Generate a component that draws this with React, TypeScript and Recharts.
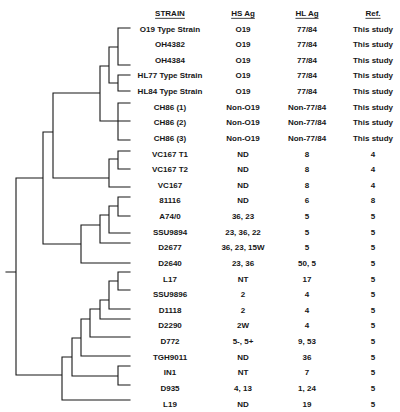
import React from "react";
import { ComposedChart, XAxis, YAxis, Line, Scatter } from "recharts";

// ---- table data ----
const strains = [
  "O19 Type Strain", "OH4382", "OH4384", "HL77 Type Strain", "HL84 Type Strain",
  "CH86 (1)", "CH86 (2)", "CH86 (3)", "VC167 T1", "VC167 T2", "VC167",
  "81116", "A74/0", "SSU9894", "D2677", "D2640", "L17", "SSU9896", "D1118",
  "D2290", "D772", "TGH9011", "IN1", "D935", "L19",
];
const hsAg = [
  "O19", "O19", "O19", "O19", "O19", "Non-O19", "Non-O19", "Non-O19",
  "ND", "ND", "ND", "ND", "36, 23", "23, 36, 22", "36, 23, 15W", "23, 36",
  "NT", "2", "2", "2W", "5-, 5+", "ND", "NT", "4, 13", "ND",
];
const hlAg = [
  "77/84", "77/84", "77/84", "77/84", "77/84", "Non-77/84", "Non-77/84", "Non-77/84",
  "8", "8", "8", "6", "5", "5", "5", "50, 5", "17", "4", "4", "4", "9, 53",
  "36", "7", "1, 24", "19",
];
const refs = [
  "This study", "This study", "This study", "This study", "This study",
  "This study", "This study", "This study", "4", "4", "4", "8", "5", "5", "5",
  "5", "5", "5", "5", "5", "5", "5", "5", "5", "5",
];
const headers = ["STRAIN", "HS Ag", "HL Ag", "Ref."];

// ---- dendrogram data (row units for vertical position, distance for height) ----
// leaf position of each strain as drawn in the tree (null = no own branch)
const treeLeafY = [
  -0.06, null, 2.3, 2.94, 3.97, 4.74, 5.89, 7.1, 7.81, 8.96, 10.11, 10.75,
  11.97, 13.06, 13.7, 14.98, 15.55, 16.7, 17.92, 18.56, 19.71, 20.93, 21.57,
  22.78, 23.74,
];
const clusterNames = ["A", "B", "C", "D", "E", "F", "G", "H", "I", "J", "K", "L", "M", "N", "O", "P", "Q", "R", "S", "T", "U", "V"];
const clusterHeight = [12, 12, 21, 12, 30, 12, 21, 77, 12, 21, 30, 49, 87, 12, 21, 30, 40, 49, 12, 58, 68, 114];
const clusterY = [1.15, 3.46, 2.37, 5.89, 4.1, 8.32, 9.54, 6.59, 11.33, 11.9, 12.54, 13.76, 9.54, 16.13, 17.34, 17.92, 18.56, 19.78, 22.21, 20.99, 22.14, 15.55];
const clusterChildren: (number | string)[][] = [
  [0, 2], [3, 4], ["A", "B"], [5, 6, 7], ["C", "D"], [8, 9], ["F", 10], ["E", "G"],
  [11, 12], ["I", 13], ["J", 14], ["K", 15], ["H", "L"], [16, 17], ["N", 18],
  ["O", 19], ["P", 20], ["Q", 21], [22, 23], ["R", "S"], ["T", 24], ["M", "U"],
];
const rootStubHeight = 124;

// ---- layout constants ----
const W = 400;
const H = 412;
const colX = [170, 243, 307, 373];
const FONT = "'Liberation Sans', Arial, Helvetica, sans-serif";
const INK = "#161616";

function nodePos(c: number | string) {
  if (typeof c === "number") return { h: 0, y: treeLeafY[c] as number };
  const k = clusterNames.indexOf(c);
  return { h: clusterHeight[k], y: clusterY[k] };
}

function buildSegments() {
  const pts: { h: number; y: number | null }[] = [];
  const seg = (h1: number, y1: number, h2: number, y2: number) => {
    pts.push({ h: h1, y: y1 }, { h: h2, y: y2 }, { h: h2, y: null });
  };
  clusterNames.forEach((_, k) => {
    const h = clusterHeight[k];
    const kids = clusterChildren[k].map(nodePos);
    const ys = kids.map((p) => p.y);
    seg(h, Math.min(...ys), h, Math.max(...ys));
    kids.forEach((p) => seg(h, p.y, p.h, p.y));
  });
  const r = clusterNames.length - 1;
  seg(rootStubHeight, clusterY[r], clusterHeight[r], clusterY[r]);
  return pts;
}

const treeData = buildSegments();
const columns = [strains, hsAg, hlAg, refs];

const TextCell = (props: any) => {
  const { cx, cy, payload } = props;
  const isHeader = payload.header;
  return (
    <text
      x={cx}
      y={cy}
      textAnchor="middle"
      dominantBaseline="central"
      fontFamily={FONT}
      fontWeight="bold"
      fontSize={8}
      fill={INK}
      style={isHeader ? { textDecoration: "underline" } : undefined}
    >
      {payload.label}
    </text>
  );
};

export default function App() {
  return (
    <div style={{ position: "absolute", left: 0, top: 0, width: W, height: H, background: "#fff" }}>
      <ComposedChart width={W} height={H} margin={{ top: 0, right: 0, bottom: 0, left: 0 }}>
        <XAxis xAxisId="tree" type="number" dataKey="h" domain={[-270, 130]} reversed hide allowDataOverflow />
        <XAxis xAxisId="table" type="number" dataKey="cx" domain={[0, W]} hide allowDataOverflow />
        <YAxis type="number" dataKey="y" domain={[-1.856, 24.512]} reversed hide allowDataOverflow />
        <Line
          xAxisId="tree"
          data={treeData}
          dataKey="y"
          stroke={INK}
          strokeWidth={1.1}
          dot={false}
          activeDot={false}
          connectNulls={false}
          isAnimationActive={false}
          strokeLinecap="square"
          type="linear"
        />
        {columns.map((col, ci) => (
          <Scatter
            key={ci}
            xAxisId="table"
            data={[
              { cx: colX[ci], y: -1, label: headers[ci], header: true },
              ...col.map((label, r) => ({ cx: colX[ci], y: r, label, header: false })),
            ]}
            shape={TextCell}
            isAnimationActive={false}
          />
        ))}
      </ComposedChart>
    </div>
  );
}
